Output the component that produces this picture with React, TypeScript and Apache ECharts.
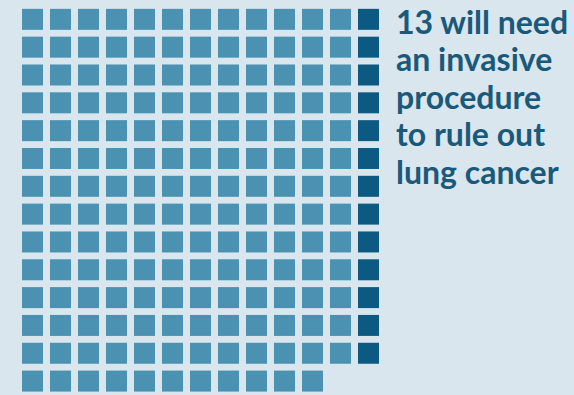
import React, { useEffect, useRef } from "react";
import * as echarts from "echarts";

// Waffle data: number of light squares per row, and dark squares (one per row, last column)
const lightPerRow = [12, 12, 12, 12, 12, 12, 12, 12, 12, 12, 12, 12, 12, 11];
const darkCount = 13;
const columns = 13;
const textLines = ["13 will need", "an invasive", "procedure", "to rule out", "lung cancer"];

const BG = "#d9e6ed";
const LIGHT = "#4a91b2";
const DARK = "#0c5a82";
const TEXT = "#19597a";

export default function App() {
  const ref = useRef<HTMLDivElement>(null);
  useEffect(() => {
    if (!ref.current) return;
    const chart = echarts.init(ref.current, null, { renderer: "svg" });
    const light: number[][] = [];
    lightPerRow.forEach((n, r) => {
      for (let c = 0; c < n; c++) light.push([c, r]);
    });
    const dark: number[][] = [];
    for (let r = 0; r < darkCount; r++) dark.push([columns - 1, r]);

    const lineH = 37.5;
    const rowPitch = 28.15;
    chart.setOption({
      animation: false,
      backgroundColor: BG,
      grid: { left: 18.5, top: 19.5 - rowPitch / 2, width: 364, height: rowPitch * lightPerRow.length },
      xAxis: { type: "value", min: -0.5, max: columns - 0.5, show: false },
      yAxis: { type: "value", min: -0.5, max: lightPerRow.length - 0.5, inverse: true, show: false },
      series: [
        {
          type: "scatter",
          symbol: "rect",
          symbolSize: 21,
          itemStyle: { color: LIGHT, opacity: 1 },
          data: light,
        },
        {
          type: "scatter",
          symbol: "rect",
          symbolSize: 21,
          itemStyle: { color: DARK, opacity: 1 },
          data: dark,
        },
      ],
      graphic: textLines.map((t, i) => ({
        type: "text",
        left: 396,
        top: 5 + i * lineH,
        style: {
          text: t,
          fill: TEXT,
          font: "bold 32px Lato",
        },
      })),
    });
    return () => chart.dispose();
  }, []);
  return (
    <div
      ref={ref}
      style={{ position: "fixed", left: 0, top: 0, width: 574, height: 395 }}
    />
  );
}
